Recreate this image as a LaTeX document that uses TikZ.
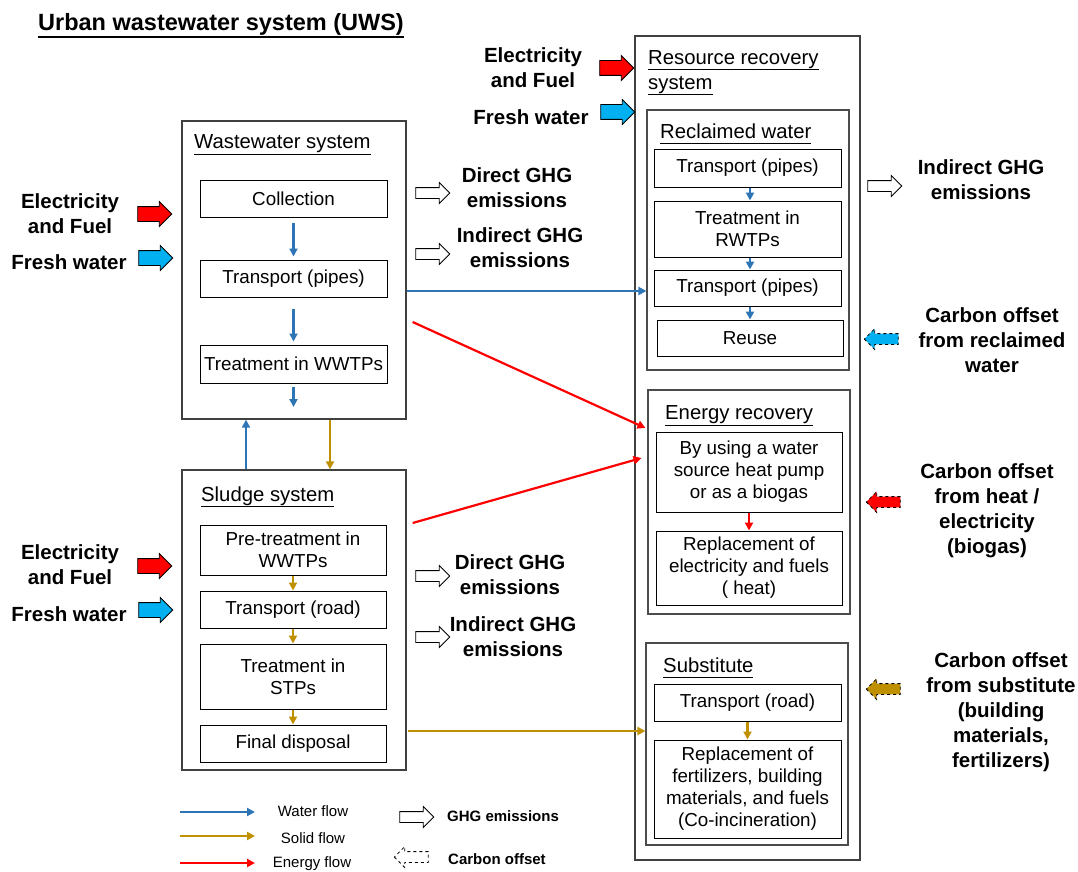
\documentclass[tikz,border=0pt]{standalone}
\usepackage{fontspec}
\setmainfont{Liberation Sans}
\usetikzlibrary{shapes.arrows,arrows.meta,calc}
\definecolor{wblue}{HTML}{2E75B6}
\definecolor{sgold}{HTML}{BF9000}
\definecolor{ered}{HTML}{FF0000}
\definecolor{lblue}{HTML}{00B0F0}
\newlength\ulw
\newcommand\myul[1]{\settowidth\ulw{#1}\rlap{\rule[-0.3em]{\ulw}{0.07em}}#1}
\begin{document}
\begin{tikzpicture}[x=1pt,y=-1pt,
  outer/.style={draw=black!75, line width=1.3pt, inner sep=0pt},
  grp/.style={draw=black!70, line width=1.1pt, inner sep=0pt},
  box/.style={draw=black, line width=1pt, align=center, inner sep=0pt, font=\fontsize{18.8}{22}\selectfont},
  lbl/.style={align=center, inner sep=0pt, font=\bfseries\fontsize{20.5}{25}\selectfont},
  hdr/.style={anchor=west, align=left, inner sep=0pt, font=\fontsize{20.3}{25}\selectfont},
  leg/.style={inner sep=0pt, font=\fontsize{15}{18}\selectfont},
  legb/.style={anchor=west, inner sep=0pt, font=\bfseries\fontsize{15}{18}\selectfont},
  blk/.style={single arrow, draw=black, line width=0.8pt, minimum height=34pt, minimum width=20pt, single arrow head extend=5pt, inner xsep=0pt, inner ysep=5pt},
  inp/.style={blk, inner ysep=7pt, minimum width=24pt},
  coff/.style={blk, dashed, shape border rotate=180},
  water/.style={draw=wblue, line width=2.2pt, -{Triangle[length=8pt,width=8pt]}},
  solid/.style={draw=sgold, line width=2.2pt, -{Triangle[length=8pt,width=8pt]}},
  energy/.style={draw=ered, line width=2.2pt, -{Triangle[length=8pt,width=8pt]}}]
\useasboundingbox (0,0) rectangle (1078,872);

\node[anchor=west, inner sep=0pt, font=\bfseries\fontsize{23.5}{28}\selectfont] (title) at (38,26) {\myul{Urban wastewater system (UWS)}};

% Wastewater system
\node[outer, minimum width=224pt, minimum height=298pt] (ww) at (294,270) {};
\node[hdr] (wwh) at (194,145) {\myul{Wastewater system}};
\node[box, minimum width=187pt, minimum height=37pt] (col) at (293.5,198.5) {Collection};
\node[box, minimum width=187pt, minimum height=37pt] (tp) at (293.5,278.5) {Transport (pipes)};
\node[box, minimum width=187pt, minimum height=38pt] (tw) at (293.5,364) {Treatment in WWTPs};
\coordinate (wwout) at (293.5,407);
\draw[water] ([yshift=-5pt]col.south) -- ([yshift=3pt]tp.north);
\draw[water] ([yshift=-11pt]tp.south) -- ([yshift=3pt]tw.north);
\draw[water] ([yshift=-3pt]tw.south) -- (wwout);

% Sludge system
\node[outer, minimum width=224pt, minimum height=300pt] (sl) at (294,620) {};
\node[hdr] (slh) at (201,497) {\myul{Sludge system}};
\node[box, minimum width=186pt, minimum height=50pt] (pt) at (293,550) {Pre-treatment in\\WWTPs};
\node[box, minimum width=186pt, minimum height=37pt] (tr) at (293,609.5) {Transport (road)};
\node[box, minimum width=186pt, minimum height=65pt] (ts) at (293,676.5) {Treatment in\\STPs};
\node[box, minimum width=186pt, minimum height=37pt] (fd) at (293,743.5) {Final disposal};
\draw[solid] (pt.south) -- (tr.north);
\draw[solid] (tr.south) -- (ts.north);
\draw[solid] (ts.south) -- (fd.north);

\draw[water] ([xshift=-48pt]sl.north) -- ([xshift=-48pt]ww.south);
\draw[solid] ([xshift=36pt]ww.south) -- ([xshift=36pt]sl.north);

% Resource recovery
\node[outer, minimum width=225pt, minimum height=824pt] (rr) at (747.5,448) {};
\node[hdr, anchor=north west] (rrh) at (648,50) {\myul{Resource recovery}\\\myul{system}};

\node[grp, minimum width=202pt, minimum height=260pt] (rec) at (748,240) {};
\node[hdr] (rech) at (660,134) {\myul{Reclaimed water}};
\node[box, minimum width=187pt, minimum height=38pt] (r1) at (747.5,168) {Transport (pipes)};
\node[box, minimum width=187pt, minimum height=56pt] (r2) at (747.5,229) {Treatment in\\RWTPs};
\node[box, minimum width=187pt, minimum height=36pt] (r3) at (747.5,288) {Transport (pipes)};
\node[box, minimum width=186pt, minimum height=36pt] (r4) at (750,338) {Reuse};
\draw[water] (r1.south -| r4.north) -- (r2.north -| r4.north);
\draw[water] (r2.south -| r4.north) -- (r3.north -| r4.north);
\draw[water] (r3.south -| r4.north) -- (r4.north);

\node[grp, minimum width=202pt, minimum height=224pt] (en) at (749,502) {};
\node[hdr] (enh) at (665,416) {\myul{Energy recovery}};
\node[box, minimum width=186pt, minimum height=80pt] (e1) at (749,472) {By using a water\\source heat pump\\or as a biogas};
\node[box, minimum width=186pt, minimum height=74pt] (e2) at (749,568) {Replacement of\\electricity and fuels\\( heat)};
\draw[energy] (e1.south) -- (e2.north);

\node[grp, minimum width=202pt, minimum height=202pt] (sub) at (747,744) {};
\node[hdr] (subh) at (663,668) {\myul{Substitute}};
\node[box, minimum width=187pt, minimum height=37pt] (s1) at (747.5,702.5) {Transport (road)};
\node[box, minimum width=187pt, minimum height=98pt] (s2) at (747.5,789) {Replacement of\\fertilizers, building\\materials, and fuels\\(Co-incineration)};
\draw[solid] (s1.south) -- (s2.north);

% cross connections
\draw[water] ([yshift=-21pt]ww.east) -- ([yshift=-51pt]rec.west);
\draw[energy] ([xshift=6pt,yshift=-52pt]ww.east) -- ([xshift=-2pt,yshift=74pt]en.west);
\draw[energy] ([xshift=6pt,yshift=97pt]sl.east) -- ([xshift=-6pt,yshift=44pt]en.west);
\draw[solid] ([xshift=1pt,yshift=-111pt]sl.east) -- ([yshift=13pt]sub.west);

% inputs left
\node[lbl] (ef1) at (70,214) {Electricity\\and Fuel};
\node[inp, fill=ered] (ef1a) at (151,214) {};
\node[lbl] (fw1) at (69,262) {Fresh water};
\node[inp, fill=lblue] (fw1a) at (152,258) {};
\node[lbl] (ef2) at (70,565) {Electricity\\and Fuel};
\node[inp, fill=ered] (ef2a) at (151,566) {};
\node[lbl] (fw2) at (69,614) {Fresh water};
\node[inp, fill=lblue] (fw2a) at (152,610) {};
% inputs top
\node[lbl] (ef3) at (533,68) {Electricity\\and Fuel};
\node[inp, fill=ered] (ef3a) at (613,68) {};
\node[lbl] (fw3) at (531,117) {Fresh water};
\node[inp, fill=lblue] (fw3a) at (614,112) {};

% emissions
\node[blk, fill=white] (em1a) at (430,193) {};
\node[lbl] (em1) at (517,188) {Direct GHG\\emissions};
\node[blk, fill=white] (em2a) at (430,254) {};
\node[lbl] (em2) at (520,248) {Indirect GHG\\emissions};
\node[blk, fill=white] (em3a) at (430,576) {};
\node[lbl] (em3) at (510,575) {Direct GHG\\emissions};
\node[blk, fill=white] (em4a) at (430,637) {};
\node[lbl] (em4) at (513,637) {Indirect GHG\\emissions};
\node[blk, fill=white] (em5a) at (882,186) {};
\node[lbl] (em5) at (981,180) {Indirect GHG\\emissions};

% carbon offsets
\node[coff, fill=lblue] (co1a) at (884,339) {};
\node[lbl] (co1) at (992,340) {Carbon offset\\from reclaimed\\water};
\node[coff, fill=ered] (co2a) at (886,502) {};
\node[lbl] (co2) at (987,511) {Carbon offset\\from heat /\\electricity\\(biogas)};
\node[coff, fill=sgold] (co3a) at (886,689) {};
\node[lbl] (co3) at (1001,712) {Carbon offset\\from substitute\\(building\\materials,\\fertilizers)};

% legend
\coordinate (lw1) at (180,812); \coordinate (lw2) at (255,812);
\coordinate (ls1) at (180,836); \coordinate (ls2) at (255,836);
\coordinate (le1) at (180,863); \coordinate (le2) at (255,863);
\draw[water] (lw1) -- (lw2);
\draw[solid] (ls1) -- (ls2);
\draw[energy] (le1) -- (le2);
\node[leg] (lwt) at (313,811) {Water flow};
\node[leg] (lst) at (313,838) {Solid flow};
\node[leg] (let) at (312,864) {Energy flow};
\node[blk, fill=white] (lga) at (414,817) {};
\node[legb] (lgt) at (447,816) {GHG emissions};
\node[coff, fill=white] (lca) at (414,857) {};
\node[legb] (lct) at (448,859) {Carbon offset};
\end{tikzpicture}
\end{document}
